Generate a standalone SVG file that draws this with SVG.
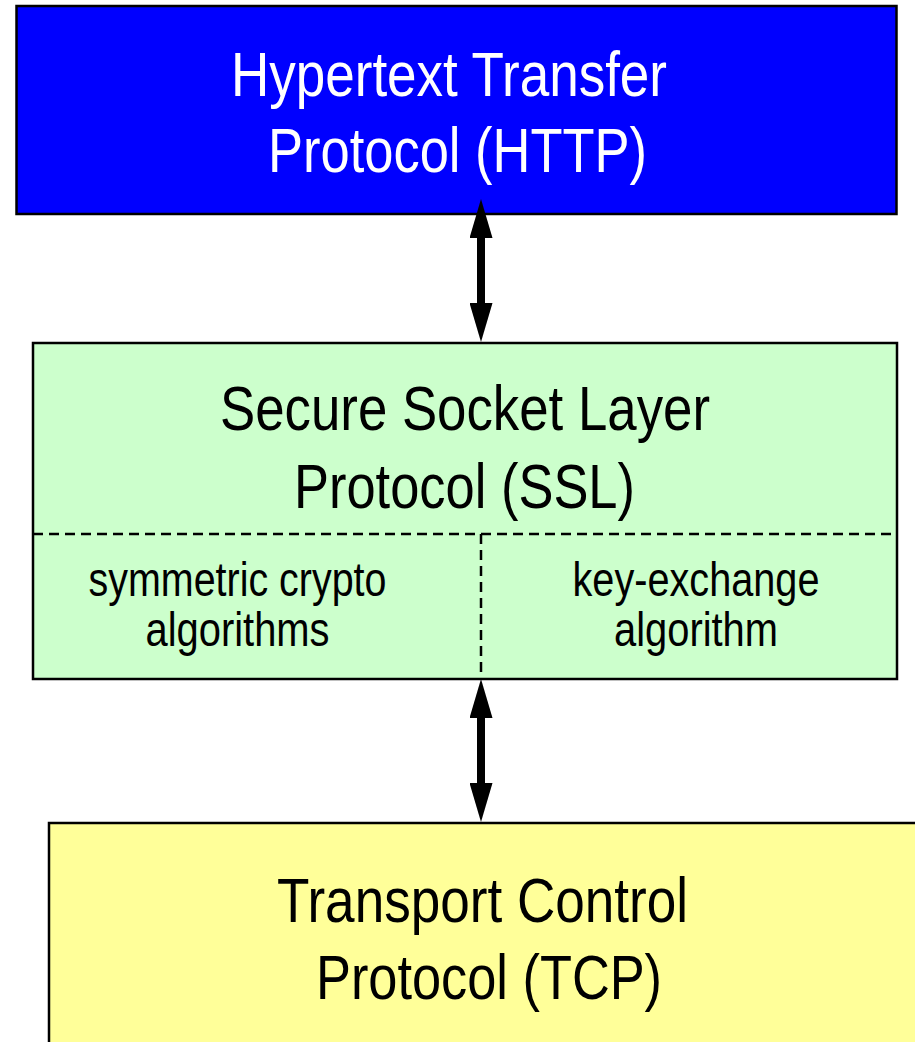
<svg xmlns="http://www.w3.org/2000/svg" width="915" height="1042" viewBox="0 0 915 1042">
  <style>
    .box { stroke: #000; stroke-width: 2.5; }
    .big { font-family: "Liberation Sans", Arial, sans-serif; font-size: 63px; text-anchor: middle; }
    .small { font-family: "Liberation Sans", Arial, sans-serif; font-size: 49px; text-anchor: middle; fill: #000; }
    .dash { stroke: #000; stroke-width: 2.5; stroke-dasharray: 10 6; fill: none; }
    .conn { stroke: #000; stroke-width: 8; fill: none; marker-start: url(#head); marker-end: url(#head); }
  </style>
  <defs>
    <marker id="head" viewBox="0 0 39 23" refX="0" refY="11.5" markerWidth="39" markerHeight="23" markerUnits="userSpaceOnUse" orient="auto-start-reverse">
      <path d="M0,0 L39,11.5 L0,23 Z" fill="#000"/>
    </marker>
  </defs>
  <rect width="915" height="1042" fill="#fff"/>

  <g id="http">
    <rect class="box" x="16.5" y="6" width="880" height="208" fill="#0000FF"/>
    <text class="big" fill="#fff" x="449" y="96" textLength="436" lengthAdjust="spacingAndGlyphs">Hypertext Transfer</text>
    <text class="big" fill="#fff" x="457.5" y="172" textLength="379" lengthAdjust="spacingAndGlyphs">Protocol (HTTP)</text>
  </g>

  <g id="ssl">
    <rect class="box" x="33" y="343" width="864" height="336" fill="#CCFFCC"/>
    <text class="big" fill="#000" x="465" y="430" textLength="490" lengthAdjust="spacingAndGlyphs">Secure Socket Layer</text>
    <text class="big" fill="#000" x="464.5" y="508" textLength="341" lengthAdjust="spacingAndGlyphs">Protocol (SSL)</text>
    <line class="dash" x1="33" y1="534" x2="897" y2="534"/>
    <line class="dash" x1="481" y1="534" x2="481" y2="679"/>
    <g id="symmetric">
      <text class="small" x="237.5" y="596" textLength="298" lengthAdjust="spacingAndGlyphs">symmetric crypto</text>
      <text class="small" x="237.5" y="646" textLength="184" lengthAdjust="spacingAndGlyphs">algorithms</text>
    </g>
    <g id="keyexchange">
      <text class="small" x="696" y="596" textLength="247" lengthAdjust="spacingAndGlyphs">key-exchange</text>
      <text class="small" x="696" y="646" textLength="164" lengthAdjust="spacingAndGlyphs">algorithm</text>
    </g>
  </g>

  <g id="tcp">
    <rect class="box" x="49" y="823" width="890" height="240" fill="#FFFF99"/>
    <text class="big" fill="#000" x="482.5" y="922" textLength="411" lengthAdjust="spacingAndGlyphs">Transport Control</text>
    <text class="big" fill="#000" x="489" y="999" textLength="346" lengthAdjust="spacingAndGlyphs">Protocol (TCP)</text>
  </g>

  <g id="connectors">
    <line class="conn" x1="481" y1="238" x2="481" y2="303"/>
    <line class="conn" x1="481" y1="718" x2="481" y2="783"/>
  </g>
</svg>
